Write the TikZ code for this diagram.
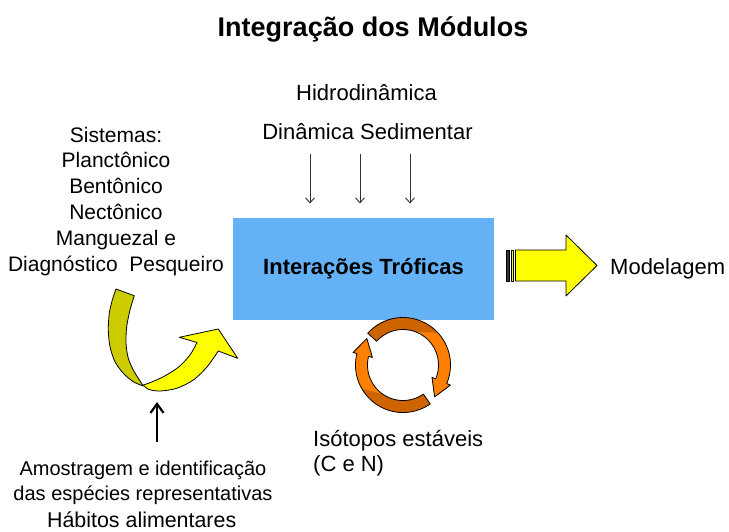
\documentclass[tikz,border=0pt]{standalone}
\usepackage{fontspec}
\setmainfont{Liberation Sans}
\usetikzlibrary{arrows.meta}
\definecolor{boxblue}{RGB}{100,178,245}
\definecolor{yfront}{RGB}{255,255,0}
\definecolor{yback}{RGB}{204,204,0}
\definecolor{orng}{RGB}{255,128,0}
\definecolor{orngdark}{RGB}{205,100,0}
\newcommand\ringarrow[4]{%
 plot[domain=#1:#2, samples=40, variable=\t] ({403+47.5*cos(\t)},{365+47.5*sin(\t)})
 -- ({403+51.5*cos(#2)},{365+51.5*sin(#2)}) -- (#3,#4) -- ({403+31.5*cos(#2)},{365+31.5*sin(#2)})
 -- plot[domain=#2:#1, samples=40, variable=\t] ({403+35.5*cos(\t)},{365+35.5*sin(\t)}) -- cycle}
\newcommand\ringshade[4]{%
 plot[domain=#1:#2, samples=30, variable=\t] ({403+47.5*cos(\t)},{365+47.5*sin(\t)})
 -- plot[domain=#3:#4, samples=30, variable=\t] ({403+35.5*cos(\t)},{365+35.5*sin(\t)}) -- cycle}
\begin{document}
\begin{tikzpicture}[x=1pt,y=-1pt,
  txt/.style={inner sep=0pt, anchor=base, font=\fontsize{22}{25.8}\selectfont},
  titletxt/.style={inner sep=0pt, anchor=base, font=\fontsize{27}{30}\selectfont\bfseries},
  mainbox/.style={fill=boxblue, draw=none, minimum width=261pt, minimum height=102pt, inner sep=0pt,
     font=\fontsize{22}{25}\selectfont\bfseries},
  thinarrow/.style={draw=black!80, line width=0.9pt, -{Straight Barb[length=5pt,width=9pt]}},
  thickarrow/.style={draw=black, line width=2.2pt, -{Straight Barb[length=9pt,width=13pt]}},
  outline/.style={draw=black, line width=0.8pt, line join=round}]
\useasboundingbox (0,0) rectangle (729,531);

% texts (multi-line nodes: base anchor = baseline of the last line)
\node[titletxt] (title) at (373,36) {Integração dos Módulos};
\node[txt] (hidro) at (366.5,100) {Hidrodinâmica};
\node[txt] (sed) at (367.5,139) {Dinâmica Sedimentar};
\node[txt, align=center, font=\fontsize{21}{25.8}\selectfont] (sist) at (116,271)
  {Sistemas:\\Planctônico\\Bentônico\\Nectônico\\Manguezal e\\Diagnóstico\ \ Pesqueiro};
\node[txt, anchor=base west] (model) at (610,274) {Modelagem};
\node[txt, anchor=base west, align=left, font=\fontsize{22}{25}\selectfont] (iso) at (313,471.7)
  {Isótopos estáveis\\(C e N)};
\node[txt, align=center, font=\fontsize{20}{25}\selectfont] (amos) at (143,500)
  {Amostragem e identificação\\das espécies representativas};
\node[txt, font=\fontsize{21.4}{25}\selectfont] (habit) at (141.7,527.5) {Hábitos alimentares};

% main box
\node[mainbox] (inter) at (363.5,269) {Interações Tróficas};

% small arrows into the box
\foreach \xx/\nm in {310/a,360/b,410/c}{
  \coordinate (s\nm) at (\xx,154);
  \coordinate (e\nm) at (\xx,203.5);
  \draw[thinarrow] (s\nm) -- (e\nm);
}

% up arrow
\coordinate (ua) at (157,442);
\coordinate (ub) at (157,402);
\draw[thickarrow] (ua) -- (ub);

% striped arrow to Modelagem
\filldraw[outline, fill=black!80] (506.5,250) rectangle (509.5,281);
\filldraw[outline, fill=yfront] (511.5,250) rectangle (513.5,281);
\filldraw[outline, fill=yfront] (515.5,250) -- (566,250) -- (566,235) -- (597,265.5)
   -- (566,296) -- (566,281) -- (515.5,281) -- cycle;

% curved yellow arrow: back face
\filldraw[outline, fill=yback] (116,289) -- (134.3,295.7)
  -- plot[smooth] coordinates {(134.3,295.7) (130,310) (126.7,326.7) (126,343.3) (128.3,358.3) (133.3,370) (138.3,378.3) (143.3,386)}
  -- plot[smooth] coordinates {(143.3,386) (133.3,381.7) (123.3,373.3) (115,361.7) (110,346.7) (108.3,330) (109.3,313.3) (112.3,300) (116,289)}
  -- cycle;
% front face
\filldraw[outline, fill=yfront]
  plot[smooth] coordinates {(143.3,385) (148.3,389.3) (160,391) (176.7,388.3) (193.3,380) (206.7,367.3) (218.3,351)}
  -- (237.7,358.3) -- (218.3,329) -- (179.3,337.3) -- (197,342.5)
  -- plot[smooth] coordinates {(197,342.5) (190,355) (178.3,367.3) (163.3,376.7) (150,382.7) (143.3,385)}
  -- cycle;

% orange cycle arrows
\fill[orng] \ringarrow{-138}{23}{434.56}{396.85};
\fill[orngdark] \ringshade{-138}{-43}{-68}{-138};
\draw[outline] \ringarrow{-138}{23}{434.56}{396.85};
\fill[orng] \ringarrow{55}{194}{366.84}{338.47};
\fill[orngdark] \ringshade{55}{150}{125}{55};
\draw[outline] \ringarrow{55}{194}{366.84}{338.47};
\end{tikzpicture}
\end{document}
